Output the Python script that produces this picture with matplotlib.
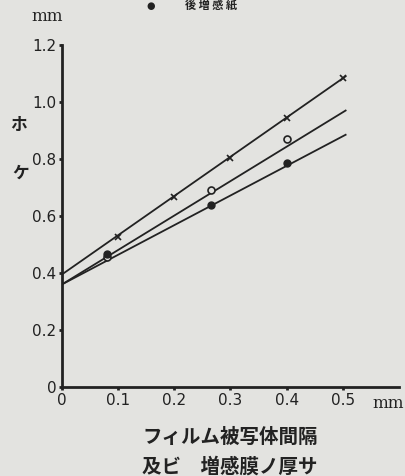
import numpy as np
import matplotlib.pyplot as plt

plt.rcParams['font.family'] = ['DejaVu Sans', 'Noto Sans CJK JP']

# measured points
x_cross = [0.1, 0.2, 0.3, 0.4, 0.5]
y_cross = [0.525, 0.665, 0.805, 0.945, 1.085]
x_circle = [0.08, 0.265, 0.4]
y_circle = [0.455, 0.69, 0.87]
x_dot = [0.08, 0.265, 0.4]
y_dot = [0.465, 0.64, 0.785]

# straight lines drawn through them (end points)
line_x = [0.0, 0.505]
cross_line = [0.395, 1.09]
circle_line = [0.36, 0.97]
dot_line = [0.36, 0.885]

xticks = [0, 0.1, 0.2, 0.3, 0.4, 0.5]
xtick_labels = ['0', '0.1', '0.2', '0.3', '0.4', '0.5']
yticks = [0, 0.2, 0.4, 0.6, 0.8, 1.0, 1.2]
ytick_labels = ['0', '0.2', '0.4', '0.6', '0.8', '1.0', '1.2']

bg = '#e3e3e0'
ink = '#222222'
jp = ['Noto Sans CJK JP', 'DejaVu Sans']

fig = plt.figure(figsize=(4.06, 4.76), dpi=100, facecolor=bg)
ax = fig.add_axes([0.1527, 0.187, 0.830, 0.7185])
ax.set_facecolor(bg)

ax.plot(line_x, cross_line, color=ink, lw=1.3)
ax.plot(line_x, circle_line, color=ink, lw=1.3)
ax.plot(line_x, dot_line, color=ink, lw=1.3)

ax.plot(x_cross, y_cross, 'x', color=ink, ms=5, mew=1.2)
ax.plot(x_circle, y_circle, 'o', mfc=bg, mec=ink, ms=5, mew=1.2)
ax.plot(x_dot, y_dot, 'o', color=ink, ms=5)

ax.set_xlim(0, 0.6)
ax.set_ylim(0, 1.2)
ax.spines['top'].set_visible(False)
ax.spines['right'].set_visible(False)
for s in ['left', 'bottom']:
    ax.spines[s].set_linewidth(2)
    ax.spines[s].set_color(ink)

ax.set_xticks(xticks)
ax.set_xticklabels(xtick_labels)
ax.set_yticks(yticks)
ax.set_yticklabels(ytick_labels)
ax.tick_params(length=2, width=2, color=ink, labelcolor=ink, labelsize=11, pad=2)

# units
fig.text(0.955, 0.153, 'mm', ha='center', va='center', fontsize=12, color=ink,
         family='DejaVu Serif')
fig.text(0.115, 0.965, 'mm', ha='center', va='center', fontsize=12, color=ink,
         family='DejaVu Serif')

# y label, vertical katakana
fig.text(0.045, 0.737, 'ホ', ha='center', va='center', fontsize=12,
         color=ink, family=jp, weight='bold')
fig.text(0.05, 0.637, 'ケ', ha='center', va='center', fontsize=12,
         color=ink, family=jp, weight='bold')

# x label
fig.text(0.567, 0.082, 'フィルム被写体間隔', ha='center', va='center', fontsize=14,
         color=ink, family=jp, weight='bold')
fig.text(0.567, 0.019, '及ビ　増感膜ノ厚サ', ha='center', va='center', fontsize=14,
         color=ink, family=jp, weight='bold')

# legend fragment at the top
fig.text(0.37, 0.987, '●', ha='center', va='center', fontsize=7, color=ink)
fig.text(0.52, 0.987, '後 増 感 紙', ha='center', va='center', fontsize=8,
         color=ink, family=jp, weight='bold')

fig.savefig('out.png', dpi=100, facecolor=bg)
